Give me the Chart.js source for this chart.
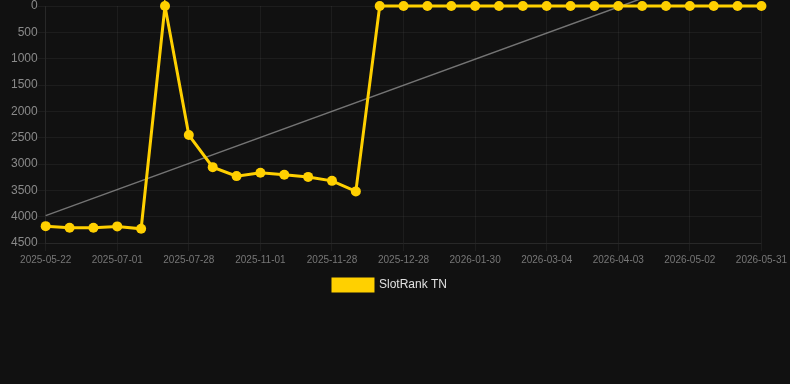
<!DOCTYPE html>
<html>
<head>
<meta charset="utf-8">
<script src="https://cdn.jsdelivr.net/npm/chart.js@4/dist/chart.umd.min.js"></script>
<style>
    html, body { margin: 0; padding: 0; background: #111111; }
    #wrap { width: 790px; height: 384px; }
</style>
</head>
<body>
<div id="wrap"><canvas id="chart"></canvas></div>
<script>
// dates (only every third one ends up shown on the axis)
const labels = [
    '2025-05-22', '2025-06-04', '2025-06-18', '2025-07-01', '2025-07-10', '2025-07-19',
    '2025-07-28', '2025-08-30', '2025-10-01', '2025-11-01', '2025-11-10', '2025-11-19',
    '2025-11-28', '2025-12-08', '2025-12-18', '2025-12-28', '2026-01-08', '2026-01-19',
    '2026-01-30', '2026-02-10', '2026-02-21', '2026-03-04', '2026-03-14', '2026-03-24',
    '2026-04-03', '2026-04-13', '2026-04-22', '2026-05-02', '2026-05-12', '2026-05-21',
    '2026-05-31'
];

const rankValues = [
    4180, 4210, 4210, 4185, 4230, 1, 2450, 3060, 3230, 3165,
    3205, 3245, 3320, 3520, 1, 1, 1, 1, 1, 1,
    1, 1, 1, 1, 1, 1, 1, 1, 1, 1, 1
];

// trend line, only the two ends are given
const trendValues = [3980].concat(new Array(29).fill(null), [-970]);

const yTicks = { min: 0, max: 4500, step: 500 };

new Chart(document.getElementById('chart').getContext('2d'), {
    type: 'line',
    data: {
        labels: labels,
        datasets: [{
            label: 'SlotRank TN',
            data: rankValues,
            borderColor: '#ffd000',
            backgroundColor: '#ffd000',
            borderWidth: 3,
            pointRadius: 5,
            pointHoverRadius: 5,
            pointBackgroundColor: '#ffd000',
            pointBorderWidth: 0,
            tension: 0,
            clip: 8,
            order: 1
        }, {
            label: 'trend',
            data: trendValues,
            borderColor: 'rgba(150,150,150,0.75)',
            borderWidth: 1.5,
            pointRadius: 0,
            spanGaps: true,
            clip: false,
            order: 2
        }]
    },
    options: {
        responsive: true,
        maintainAspectRatio: false,
        animation: false,
        layout: { padding: { left: 11, right: 21, bottom: 83 } },
        font: { family: 'Arial, "Liberation Sans", Helvetica, sans-serif' },
        scales: {
            x: {
                grid: { color: 'rgba(255,255,255,0.05)' },
                border: { color: 'rgba(255,255,255,0.05)' },
                ticks: {
                    color: '#777777',
                    font: { size: 10 },
                    maxRotation: 0,
                    autoSkip: true,
                    maxTicksLimit: 11
                }
            },
            y: {
                reverse: true,
                min: yTicks.min,
                max: yTicks.max,
                grid: { color: 'rgba(255,255,255,0.05)' },
                border: { color: 'rgba(255,255,255,0.05)' },
                ticks: {
                    stepSize: yTicks.step,
                    color: '#8a8a8a',
                    padding: 0,
                    font: { size: 12, lineHeight: 1 },
                    callback: v => String(v)
                }
            }
        },
        plugins: {
            legend: {
                position: 'bottom',
                labels: {
                    color: '#e0e0e0',
                    font: { size: 12 },
                    boxWidth: 40,
                    filter: item => item.text !== 'trend'
                }
            },
            tooltip: { enabled: false }
        }
    }
});
</script>
</body>
</html>
